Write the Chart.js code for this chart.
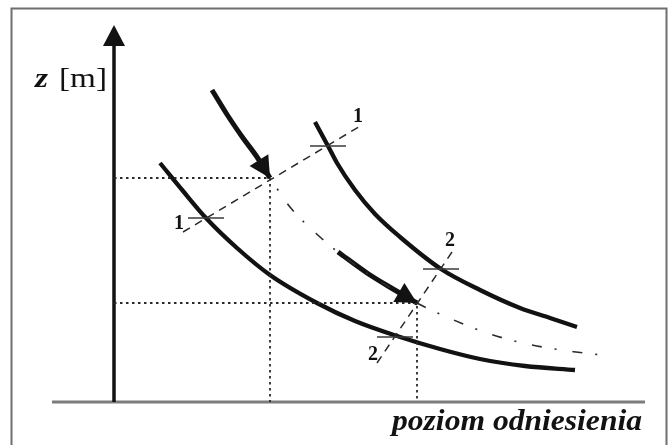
<!DOCTYPE html>
<html><head><meta charset="utf-8">
<script src="https://cdn.jsdelivr.net/npm/chart.js@4/dist/chart.umd.min.js"></script>
<style>html,body{margin:0;padding:0;background:#fff;overflow:hidden}canvas{display:block}</style>
</head><body>
<canvas id="c" width="671" height="445"></canvas>
<script>
// ---- texts ----
const yAxisSymbol = 'z';
const yAxisUnit = '[m]';
const xAxisLabel = 'poziom odniesienia';
const sectionNames = ['1', '2'];

// ---- data (x: horizontal distance, arbitrary units; z: height above datum, m) ----
const curveA_x = [4.6, 6.9, 9.2, 12.3, 15.6, 20.3, 24.1, 28.3, 32.6, 36.6, 41.1, 46.1];
const curveA_z = [23.9, 21.1, 18.4, 15.4, 12.7, 9.9, 8.1, 6.6, 5.3, 4.3, 3.6, 3.2];

const curveB_x = [20.1, 21.4, 22.3, 24.1, 26.1, 28.6, 32.7, 36.6, 40.6, 43.6, 46.3];
const curveB_z = [28.0, 25.6, 23.9, 21.2, 18.8, 16.5, 13.3, 11.2, 9.4, 8.4, 7.5];

const middle_x = [15.6, 17.6, 20.6, 22.4, 25.3, 30.3, 33.5, 37.6, 41.8, 46.2, 48.8];
const middle_z = [22.4, 19.5, 16.5, 15.0, 12.9, 9.9, 8.4, 6.8, 5.7, 5.0, 4.7];

const stations_x = [15.6, 30.3];
const stations_z = [22.4, 9.9];

const section1_x = [6.9, 24.8];
const section1_z = [17.0, 27.7];
const section2_x = [26.3, 34.0];
const section2_z = [3.9, 15.3];

const cross_x = [9.2, 21.4, 32.7, 28.1];
const cross_z = [18.4, 25.6, 13.3, 6.5];

const arrow1_x = [9.8, 11.4, 12.9, 14.3, 15.6];
const arrow1_z = [31.2, 28.6, 26.4, 24.5, 22.4];
const arrow2_x = [22.4, 25.3, 27.9, 30.3];
const arrow2_z = [15.0, 12.9, 11.3, 9.9];

// ---- build ----
const pts = (xs, zs) => xs.map((x, i) => ({x, y: zs[i]}));
const INK = '#121212';
const SERIF = '"Liberation Serif", "Times New Roman", Times, serif';

const datasets = [];
stations_x.forEach((sx, i) => {
  datasets.push({
    data: [{x: 0, y: stations_z[i]}, {x: sx, y: stations_z[i]}, {x: sx, y: 0}],
    borderColor: '#2a2a2a', borderWidth: 1.8, borderDash: [2.5, 3.5], tension: 0
  });
});
datasets.push({data: pts(section1_x, section1_z), borderColor: '#2a2a2a', borderWidth: 1.5, borderDash: [8, 6], tension: 0});
datasets.push({data: pts(section2_x, section2_z), borderColor: '#2a2a2a', borderWidth: 1.5, borderDash: [8, 6], tension: 0});
datasets.push({data: pts(middle_x, middle_z), borderColor: '#2a2a2a', borderWidth: 1.6, borderDash: [10, 13, 2, 16], borderDashOffset: 10, cubicInterpolationMode: 'monotone'});
datasets.push({data: pts(curveA_x, curveA_z), borderColor: INK, borderWidth: 4.3, cubicInterpolationMode: 'monotone'});
datasets.push({data: pts(curveB_x, curveB_z), borderColor: INK, borderWidth: 4.3, cubicInterpolationMode: 'monotone'});
datasets.push({data: pts(arrow1_x, arrow1_z), borderColor: INK, borderWidth: 5, cubicInterpolationMode: 'monotone'});
datasets.push({data: pts(arrow2_x, arrow2_z), borderColor: INK, borderWidth: 5, cubicInterpolationMode: 'monotone'});
datasets.forEach(d => { d.showLine = true; d.pointRadius = 0; d.fill = false; d.borderCapStyle = 'butt'; });

function fitText(ctx, text, x, y, width, font, align) {
  ctx.save();
  ctx.font = font;
  const w = ctx.measureText(text).width;
  const sx = width / w;
  const left = align === 'right' ? x - width : x;
  ctx.translate(left, y);
  ctx.scale(sx, 1);
  ctx.textAlign = 'left';
  ctx.textBaseline = 'alphabetic';
  ctx.fillText(text, 0, 0);
  ctx.restore();
}

function head(ctx, tip, from, len, half) {
  const a = Math.atan2(tip.y - from.y, tip.x - from.x);
  const bx = tip.x - len * Math.cos(a), by = tip.y - len * Math.sin(a);
  ctx.beginPath();
  ctx.moveTo(tip.x, tip.y);
  ctx.lineTo(bx + half * Math.sin(a), by - half * Math.cos(a));
  ctx.lineTo(bx - half * Math.sin(a), by + half * Math.cos(a));
  ctx.closePath();
  ctx.fill();
}

const overlay = {
  id: 'overlay',
  beforeDatasetsDraw(chart) {
    const ctx = chart.ctx, xs = chart.scales.x, ys = chart.scales.y;
    const ox = xs.getPixelForValue(0), oy = ys.getPixelForValue(0);
    ctx.save();
    ctx.strokeStyle = '#6f6f6f'; ctx.lineWidth = 2;
    ctx.strokeRect(11.5, 8.5, 655, 460);
    ctx.strokeStyle = '#7c7c7c'; ctx.lineWidth = 3;
    ctx.beginPath(); ctx.moveTo(52, oy); ctx.lineTo(645, oy); ctx.stroke();
    ctx.strokeStyle = INK; ctx.fillStyle = INK; ctx.lineWidth = 3.5;
    ctx.beginPath(); ctx.moveTo(ox, oy); ctx.lineTo(ox, 40); ctx.stroke();
    head(ctx, {x: ox, y: 25}, {x: ox, y: 60}, 21, 11);
    ctx.restore();
  },
  afterDatasetsDraw(chart) {
    const ctx = chart.ctx, xs = chart.scales.x, ys = chart.scales.y;
    const P = (x, z) => ({x: xs.getPixelForValue(x), y: ys.getPixelForValue(z)});
    ctx.save();
    ctx.fillStyle = INK;
    [[arrow1_x, arrow1_z], [arrow2_x, arrow2_z]].forEach(([ax, az]) => {
      const n = ax.length;
      head(ctx, P(ax[n - 1], az[n - 1]), P(ax[n - 2], az[n - 2]), 21, 11);
    });
    ctx.strokeStyle = '#3a3a3a'; ctx.lineWidth = 1.5;
    cross_x.forEach((cx, i) => {
      const p = P(cx, cross_z[i]);
      ctx.beginPath(); ctx.moveTo(p.x - 18, p.y); ctx.lineTo(p.x + 18, p.y); ctx.stroke();
    });
    ctx.font = 'bold 20px ' + SERIF;
    ctx.textAlign = 'center'; ctx.textBaseline = 'middle';
    [[section1_x, section1_z], [section2_x, section2_z]].forEach(([sx, sz], i) => {
      [0, 1].forEach(k => {
        const p = P(sx[k], sz[k]);
        ctx.fillText(sectionNames[i], p.x - 4, p.y - 8);
      });
    });
    fitText(ctx, yAxisSymbol, 35, 87, 13, 'italic bold 28px ' + SERIF, 'left');
    fitText(ctx, yAxisUnit, 59, 87, 48, '28px ' + SERIF, 'left');
    fitText(ctx, xAxisLabel, 642, 430, 250, 'italic bold 30px ' + SERIF, 'right');
    ctx.restore();
  }
};

function build() {
  new Chart(document.getElementById('c'), {
    type: 'scatter',
    data: {datasets},
    options: {
      responsive: false, animation: false, devicePixelRatio: 1,
      layout: {padding: 0},
      plugins: {legend: {display: false}, tooltip: {enabled: false}},
      scales: {
        x: {type: 'linear', display: false, min: -11.4, max: 55.7},
        y: {type: 'linear', display: false, min: -4.3, max: 40.2}
      }
    },
    plugins: [overlay]
  });
}
const loads = ['italic bold 30px "Liberation Serif"', '28px "Liberation Serif"', 'bold 20px "Liberation Serif"']
  .map(f => document.fonts ? document.fonts.load(f) : Promise.resolve());
Promise.all(loads).then(build, build);
</script>
</body></html>
